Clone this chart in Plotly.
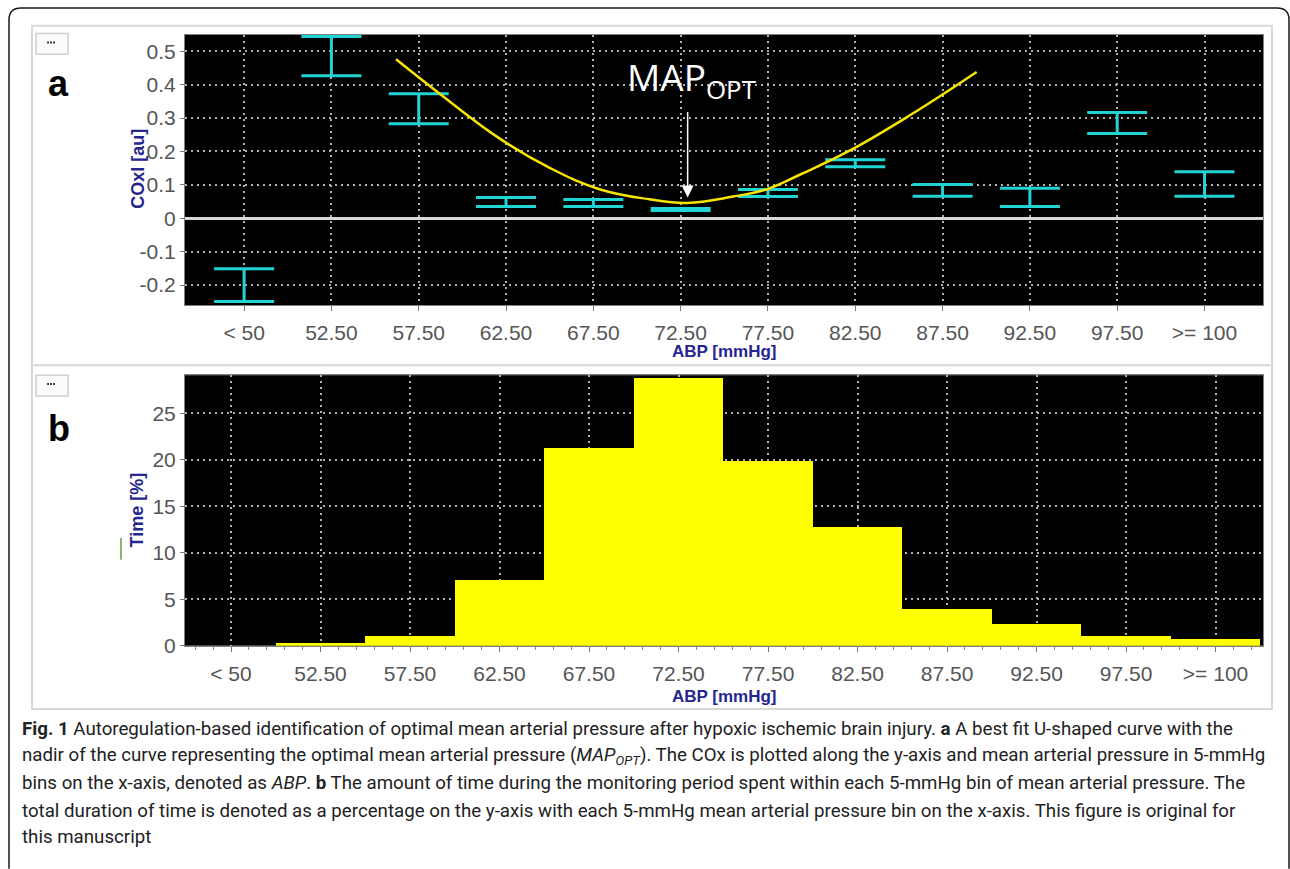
import plotly.graph_objects as go

W, H = 1290, 869

categories = ["&lt; 50", "52.50", "57.50", "62.50", "67.50", "72.50", "77.50",
              "82.50", "87.50", "92.50", "97.50", "&gt;= 100"]
cat_pos = list(range(len(categories)))

# Panel a: COx error bars (low / high)
cox_low = [-0.249, 0.427, 0.283, 0.035, 0.035, 0.023, 0.065, 0.154, 0.066, 0.035, 0.254, 0.066]
cox_high = [-0.151, 0.544, 0.373, 0.062, 0.056, 0.029, 0.086, 0.175, 0.101, 0.090, 0.317, 0.139]

# Panel a: U-shaped fit curve (category-index units)
fit_x = [1.74, 2.24, 2.92, 3.50, 4.07, 4.64, 5.07, 5.60, 5.99, 6.37, 6.94, 7.63, 8.39]
fit_y = [0.476, 0.373, 0.240, 0.151, 0.087, 0.057, 0.046, 0.065, 0.087, 0.131, 0.203, 0.309, 0.438]

# Panel b: time spent in each bin (%)
time_pct = [0.0, 0.32, 1.06, 7.0, 21.3, 28.8, 19.9, 12.7, 3.9, 2.3, 1.06, 0.74]

a_yticks = [-0.2, -0.1, 0, 0.1, 0.2, 0.3, 0.4, 0.5]
a_yticktext = ["-0.2", "-0.1", "0", "0.1", "0.2", "0.3", "0.4", "0.5"]
b_yticks = [0, 5, 10, 15, 20, 25]

caption_lines = [
    "<b>Fig. 1</b> Autoregulation-based identification of optimal mean arterial pressure after hypoxic ischemic brain injury. <b>a</b> A best fit U-shaped curve with the",
    "nadir of the curve representing the optimal mean arterial pressure (<i>MAP<sub>OPT</sub></i>). The COx is plotted along the y-axis and mean arterial pressure in 5-mmHg",
    "bins on the x-axis, denoted as <i>ABP</i>. <b>b</b> The amount of time during the monitoring period spent within each 5-mmHg bin of mean arterial pressure. The",
    "total duration of time is denoted as a percentage on the y-axis with each 5-mmHg mean arterial pressure bin on the x-axis. This figure is original for",
    "this manuscript",
]


def px(x):
    return x / W


def py(y):
    return 1 - y / H


CYAN = "#22d3d3"
YEL_CURVE = "#f7e400"
YEL_BAR = "#ffff00"
NAVY = "#26268f"
TICKC = "#555555"
GRIDC = "#b0b0b0"
TICKFONT = dict(family="Liberation Sans, Arial, sans-serif", size=21, color=TICKC)

mid = [(l + h) / 2 for l, h in zip(cox_low, cox_high)]
plus = [h - m for h, m in zip(cox_high, mid)]
minus = [m - l for l, m in zip(cox_low, mid)]

fig = go.Figure()

fig.add_trace(go.Scatter(
    x=cat_pos, y=mid, mode="markers", marker=dict(size=1, color="rgba(0,0,0,0)"),
    error_y=dict(type="data", symmetric=False, array=plus, arrayminus=minus,
                 color=CYAN, thickness=3, width=30),
    xaxis="x", yaxis="y", showlegend=False, hoverinfo="skip"))

fig.add_trace(go.Scatter(
    x=fit_x, y=fit_y, mode="lines", line=dict(color=YEL_CURVE, width=2.5, shape="spline", smoothing=1.2),
    xaxis="x", yaxis="y", showlegend=False, hoverinfo="skip"))

fig.add_trace(go.Bar(
    x=cat_pos, y=time_pct, width=1.0, marker=dict(color=YEL_BAR, line=dict(width=0)),
    xaxis="x2", yaxis="y2", showlegend=False, hoverinfo="skip"))

common_x = dict(
    tickmode="array", tickvals=cat_pos, ticktext=categories, tickfont=TICKFONT,
    showgrid=True, gridcolor=GRIDC, gridwidth=1.5, griddash="2px,4px",
    ticks="outside", ticklen=5, tickcolor="#777", tickwidth=1, ticklabelstandoff=4,
    showline=True, linecolor="#808080", linewidth=1, mirror=True,
    zeroline=False, fixedrange=True,
)
common_y = dict(
    tickfont=TICKFONT, showgrid=True, gridcolor=GRIDC, gridwidth=1.5, griddash="2px,4px",
    ticks="outside", ticklen=4, tickcolor="#777", tickwidth=1,
    showline=True, linecolor="#808080", linewidth=1, mirror=True, fixedrange=True,
)

xa_dom = [px(185), px(1263)]

fig.update_layout(
    width=W, height=H, margin=dict(l=0, r=0, t=0, b=0),
    paper_bgcolor="white", plot_bgcolor="black", bargap=0,
    xaxis=dict(domain=xa_dom, range=[-0.677, 11.67], anchor="y", **common_x),
    yaxis=dict(domain=[py(309), py(35)], range=[-0.260, 0.550], anchor="x",
               tickmode="array", tickvals=a_yticks, ticktext=a_yticktext,
               zeroline=True, zerolinecolor="#d8d8d8", zerolinewidth=3, **common_y),
    xaxis2=dict(domain=xa_dom, range=[-0.514, 11.53], anchor="y2",
                minor=dict(tick0=0, dtick=0.2, ticks="outside", ticklen=3, tickcolor="#888", showgrid=False),
                **common_x),
    yaxis2=dict(domain=[py(654), py(380)], range=[0, 29.1], anchor="x2",
                tickmode="array", tickvals=b_yticks, zeroline=False, **common_y),
)

shapes = []
# outer rounded frame
shapes.append(dict(type="path", xref="paper", yref="paper",
                   path=f"M {px(9)},{py(880)} L {px(9)},{py(20)} Q {px(9)},{py(8)} {px(21)},{py(8)} "
                        f"L {px(1277)},{py(8)} Q {px(1289)},{py(8)} {px(1289)},{py(20)} L {px(1289)},{py(880)}",
                   line=dict(color="#1a1a1a", width=1.5)))
# light panel frames
shapes.append(dict(type="rect", xref="paper", yref="paper", x0=px(32), x1=px(1272), y0=py(718), y1=py(26),
                   line=dict(color="#d8d8d8", width=2)))
shapes.append(dict(type="line", xref="paper", yref="paper", x0=px(32), x1=px(1272), y0=py(370), y1=py(370),
                   line=dict(color="#d8d8d8", width=2)))
# small "..." buttons
for top in (34, 380):
    shapes.append(dict(type="rect", xref="paper", yref="paper", x0=px(36), x1=px(68), y0=py(top + 21), y1=py(top),
                       line=dict(color="#cfcfcf", width=1.5), fillcolor="#fbfbfb"))
    shapes.append(dict(type="line", xref="paper", yref="paper", x0=px(47), x1=px(55), y0=py(top + 9), y1=py(top + 9),
                       line=dict(color="#444", width=2, dash="2px,1px")))
# small green mark next to Time title
shapes.append(dict(type="line", xref="paper", yref="paper", x0=px(121), x1=px(121), y0=py(567), y1=py(545),
                   line=dict(color="#6a9a3a", width=1.5)))
fig.update_layout(shapes=shapes)

ann = []


def add_ann(**kw):
    kw.setdefault("xanchor", "center")
    kw.setdefault("yanchor", "middle")
    kw.setdefault("showarrow", False)
    ann.append(kw)


# MAP_OPT label and arrow
add_ann(x=5.12, y=0.418, xref="x", yref="y", text="MAP<sub>OPT</sub>",
        font=dict(family="Open Sans, Noto Sans, sans-serif", size=37, color="white"))
ann.append(dict(x=5.08, y=0.062, xref="x", yref="y", text="", showarrow=True, ax=0, ay=-87,
                arrowhead=2, arrowsize=1.6, arrowwidth=1.5, arrowcolor="white"))
# panel letters
add_ann(x=px(58), y=py(85), xref="paper", yref="paper", text="<b>a</b>",
        font=dict(family="Liberation Sans, Arial, sans-serif", size=36, color="black"))
add_ann(x=px(59), y=py(434), xref="paper", yref="paper", text="<b>b</b>",
        font=dict(family="Liberation Sans, Arial, sans-serif", size=36, color="black"))
# axis titles
TF = dict(family="Liberation Sans, Arial, sans-serif", size=17, color=NAVY)
add_ann(x=px(724), y=py(356), xref="paper", yref="paper", text="<b>ABP [mmHg]</b>", font=TF)
add_ann(x=px(724), y=py(705), xref="paper", yref="paper", text="<b>ABP [mmHg]</b>", font=TF)
add_ann(x=px(138), y=py(171), xref="paper", yref="paper", text="<b>COxl [au]</b>", textangle=-90,
        font=dict(family="Liberation Sans, Arial, sans-serif", size=18, color=NAVY))
add_ann(x=px(137), y=py(517), xref="paper", yref="paper", text="<b>Time [%]</b>", textangle=-90,
        font=dict(family="Liberation Sans, Arial, sans-serif", size=18, color=NAVY))
# caption
cap_y = [738, 766, 793, 821, 848]
for line, yy in zip(caption_lines, cap_y):
    add_ann(x=px(20), y=py(yy), xref="paper", yref="paper", text=line, xanchor="left",
            font=dict(family="Roboto, sans-serif", size=18.7, color="#222"))
fig.update_layout(annotations=ann)

fig.write_html("out.html", include_plotlyjs=True,
               post_script="document.body.style.margin='0';document.body.style.overflow='hidden';",
               config={"displayModeBar": False})
